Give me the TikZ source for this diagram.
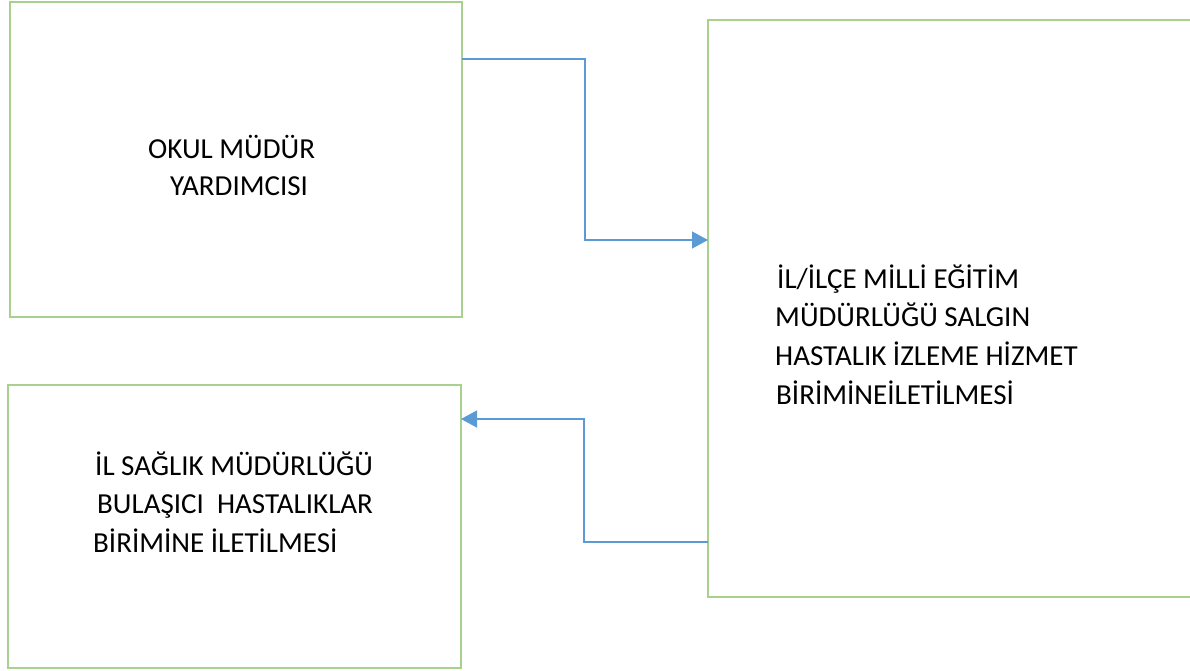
\documentclass[tikz,border=0pt]{standalone}
\usepackage{fontspec}
\setmainfont{Carlito}
\usetikzlibrary{arrows.meta,calc}
\definecolor{boxgreen}{HTML}{A9D18E}
\definecolor{connblue}{HTML}{5B9BD5}
\begin{document}
\begin{tikzpicture}[x=1pt,y=-1pt,
  box/.style={draw=boxgreen, line width=2.8pt, rectangle, inner sep=0pt, outer sep=0pt, anchor=north west},
  txt/.style={inner sep=0pt, anchor=base west, font=\fontsize{29pt}{34pt}\selectfont, text=black},
  conn/.style={draw=connblue, line width=1.3pt, -{Triangle[length=16pt,width=17pt]}}]
\useasboundingbox (0,0) rectangle (1190,670);
\node[box, minimum width=452pt, minimum height=315pt] (b1) at (10,2) {};
\node[box, minimum width=453pt, minimum height=283pt] (b2) at (8,385) {};
\node[box, minimum width=500pt, minimum height=577pt] (b3) at (708,20) {};
\node[txt] (t1a) at (148,158) {OKUL MÜDÜR};
\node[txt] (t1b) at (170,195) {YARDIMCISI};
\node[txt] (t2a) at (95,475) {İL SAĞLIK MÜDÜRLÜĞÜ};
\node[txt] (t2b) at (97,513) {BULAŞICI\ \ HASTALIKLAR};
\node[txt] (t2c) at (93,552) {BİRİMİNE İLETİLMESİ};
\node[txt] (t3a) at (777,288) {İL/İLÇE MİLLİ EĞİTİM};
\node[txt] (t3b) at (775,326) {MÜDÜRLÜĞÜ SALGIN};
\node[txt] (t3c) at (775,365) {HASTALIK İZLEME HİZMET};
\node[txt] (t3d) at (776,404) {BİRİMİNEİLETİLMESİ};
\draw[conn] ([yshift=-57pt]b1.north east) -- ++(123,0) |- ([yshift=-220pt]b3.north west);
\draw[conn] ([yshift=-522pt]b3.north west) -- ++(-124,0) |- ([yshift=-34pt]b2.north east);
\end{tikzpicture}
\end{document}
